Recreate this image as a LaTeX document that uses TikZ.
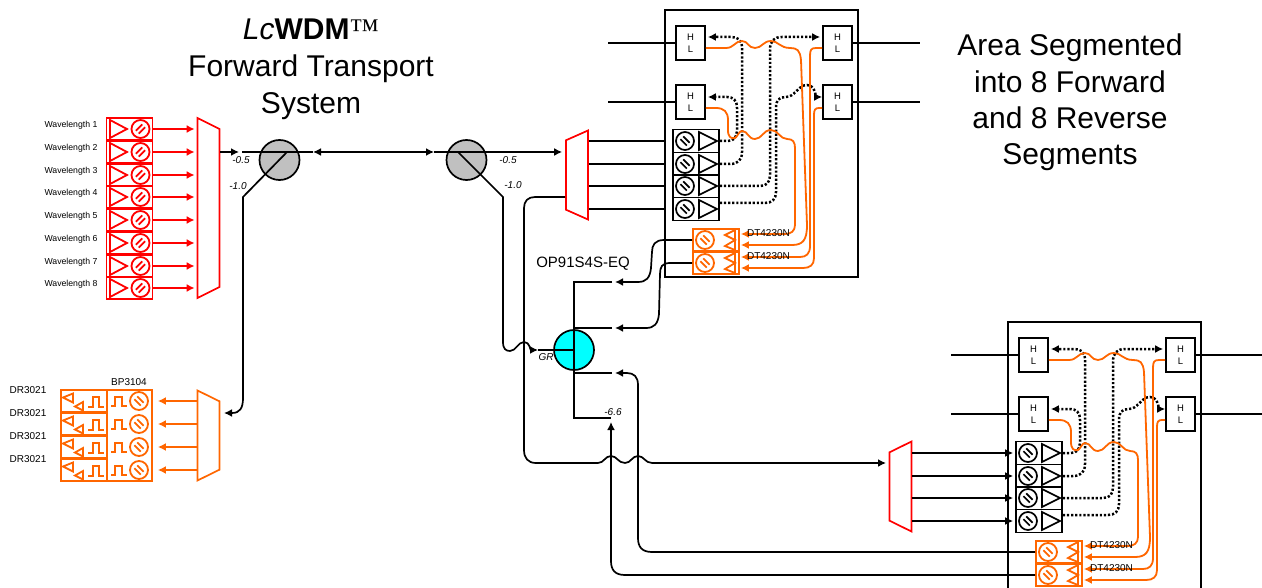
\documentclass[tikz,border=0pt]{standalone}
\usepackage{fontspec}
\setmainfont{Liberation Sans}
\newfontfamily\tmfont{Liberation Serif}
\usetikzlibrary{arrows.meta}
\usetikzlibrary{shapes.geometric}
\definecolor{orange1}{HTML}{FF6600}
\definecolor{gray1}{HTML}{C0C0C0}
\definecolor{cyan1}{HTML}{00FFFF}

\begin{document}
\begin{tikzpicture}[x = 1pt, y = -1pt, line width = 1.7pt,
        font = \fontsize{10}{12}\selectfont,
        arr/.style = {-{Latex[length=8pt,width=8pt]}},
        dots/.style = {line width = 2.5pt, dash pattern = on 2.2pt off 1.9pt},
        wire/.style = {orange1, line width = 1.8pt},
        title/.style = {align = center, font = \fontsize{30}{37}\selectfont},
        lab/.style = {inner sep = 0pt, font = \itshape\fontsize{10}{12}\selectfont},
        tag/.style = {inner sep = 0pt},
        cell/.style = {draw, rectangle, minimum width = 46pt, minimum height = 22.75pt, inner sep = 0pt},
        hl/.style = {draw, fill = white, minimum width = 29pt, minimum height = 34pt, inner sep = 0pt, align = center, font = \fontsize{9.5}{12.5}\selectfont},
        frame/.style = {draw, fill = white, minimum width = 193pt, minimum height = 267pt, inner sep = 0pt},
        mux/.style = {draw, fill = white, trapezium, trapezium stretches, trapezium angle = 81, inner sep = 0pt, text width = 1pt, text height = 1pt, minimum height = 22pt},
        gauge/.style = {draw, circle, minimum size = 18pt, inner sep = 0pt, path picture = {
            \draw ([shift = {(-1.8pt,-4.6pt)}]path picture bounding box.center) -- ([shift = {(4.6pt,1.8pt)}]path picture bounding box.center);
            \draw ([shift = {(-4.6pt,-1.8pt)}]path picture bounding box.center) -- ([shift = {(1.8pt,4.6pt)}]path picture bounding box.center);}},
        gaugeb/.style = {gauge, rotate = 90},
        split/.style = {draw, circle, minimum size = 40pt, inner sep = 0pt},
        pics/txcell/.style = {code = {
            \node[cell] (-box) at (0,0) {};
            \node[gauge] (-att) at (11,0) {};
            \draw (-19.5,-9) -- (-2.5,0) -- (-19.5,9) -- cycle;
        }},
        pics/rxcell/.style = {code = {
            \node[cell] (-box) at (0,0) {};
            \node[gaugeb] (-att) at (-11,0) {};
            \draw (3,-9) -- (21,0) -- (3,9) -- cycle;
        }},
        pics/dtcell/.style = {code = {
            \node[cell] (-box) at (0,0) {};
            \node[gaugeb] (-att) at (-11,0) {};
            \draw (19,-11.4) -- (19,11.4);
            \draw (19,-10) -- (9,-5) -- (19,0) -- (9,6) -- (19,10);
        }},
        pics/drcell/.style = {code = {
            \node[cell] (-box) at (0,0) {};
            \draw (-21,-3.5) -- (-11,-7.5) -- (-11,1.5) -- cycle;
            \draw (-9,5.5) -- (-1,1) -- (-1,9.5) -- cycle;
            \draw (4,6) -- (9,6) -- (9,-4) -- (15,-4) -- (15,6) -- (20,6);
        }},
        pics/segbox/.style = {code = {
            \node[frame] (-frame) at (761.5,143.5) {};
            \node[hl] (-hla) at (690.5,43) {H\\L};
            \node[hl] (-hlb) at (690.5,102) {H\\L};
            \node[hl] (-hlc) at (837.5,43) {H\\L};
            \node[hl] (-hld) at (837.5,102) {H\\L};
            \coordinate (-ina) at (608,43);
            \coordinate (-inb) at (608,102);
            \coordinate (-outa) at (920,43);
            \coordinate (-outb) at (920,102);
            \path (-ina) edge (-hla) (-inb) edge (-hlb) (-hlc) edge (-outa) (-hld) edge (-outb);
            \foreach \r/\y in {a/141,b/164,c/186,d/209}
                \pic (-rx\r) at (696,\y) {rxcell};
            \pic[orange1, line width = 1.8pt] (-dta) at (716,240) {dtcell};
            \pic[orange1, line width = 1.8pt] (-dtb) at (716,263) {dtcell};
            \draw[dots, arr] (-rxa-box.east) -- (728,141) .. controls (734,141) and (737,137) .. (737,130) -- (737,108) .. controls (737,100) and (733,97) .. (727,97) -- ([xshift = 2pt, yshift = 5pt]-hlb.east);
            \draw[dots, arr] (-rxb-box.east) -- (730,164) .. controls (738,164) and (742,160) .. (742,152) -- (742,48) .. controls (742,40) and (738,37) .. (731,37) -- ([xshift = 2pt, yshift = 6pt]-hla.east);
            \draw[dots, arr] (-rxc-box.east) -- (760,186) .. controls (767,186) and (770,182) .. (770,175) -- (770,50) .. controls (770,41) and (774,37) .. (782,37) -- ([xshift = -2pt, yshift = 6pt]-hlc.west);
            \draw[dots, arr] ([yshift = 6pt]-rxd-box.east) -- (765,203) .. controls (772,203) and (776,199) .. (776,192) -- (776,108) .. controls (776,100) and (779,97) .. (786,97) .. controls (795,97) and (798,85) .. (807,85) .. controls (813,85) and (815,90) .. (816,97) -- ([yshift = 5pt]-hld.west);
            \draw[wire, arr] ([yshift = -5pt]-hla.east) -- (726,48) .. controls (734,48) and (735,41) .. (742,41) .. controls (748,41) and (748,48) .. (755,48) .. controls (762,48) and (763,41) .. (771,41) .. controls (778,41) and (780,48) .. (790,48) .. controls (797,48) and (800,50) .. (801,60) -- (807,225) .. controls (807,240) and (803,245) .. (792,245) -- ([yshift = -5pt, xshift = 1pt]-dta-box.east);
            \draw[wire, arr] ([yshift = -6pt]-hlb.east) -- (716,108) .. controls (724,108) and (728,112) .. (728,120) -- (728,130) .. controls (728,137) and (731,139) .. (735,138) .. controls (738,136) and (739,131) .. (742,131) .. controls (748,131) and (748,139) .. (755,139) .. controls (762,139) and (763,130) .. (771,130) .. controls (778,130) and (780,139) .. (787,139) .. controls (793,139) and (795,142) .. (795,148) -- (795,225) .. controls (795,231) and (791,234) .. (785,234) -- ([yshift = 6pt, xshift = 1pt]-dta-box.east);
            \draw[wire, arr] ([yshift = -5pt]-hlc.west) -- (816,48) .. controls (811,48) and (810,50) .. (810,56) -- (810,246) .. controls (810,254) and (806,257) .. (800,257) -- ([yshift = 6pt, xshift = 1pt]-dtb-box.east);
            \draw[wire, arr] ([yshift = -6pt]-hld.west) -- (819,108) .. controls (815,108) and (814,110) .. (814,115) -- (814,258) .. controls (814,265) and (810,268) .. (803,268) -- ([yshift = -5pt, xshift = 1pt]-dtb-box.east);
            \node[tag] (-dtla) at (768.5,233) {DT4230N};
            \node[tag] (-dtlb) at (768.5,256) {DT4230N};
        }}]
    \useasboundingbox (0,0) rectangle (1262,588);

    \node[title] (ttl) at (311,69.5) {{\itshape Lc}{\bfseries WDM}{\tmfont ™}\\Forward Transport\\System};
    \node[title, font = \fontsize{30}{36.4}\selectfont] (area) at (1070,102.5) {Area Segmented\\into 8 Forward\\and 8 Reverse\\Segments};

    \node[mux, draw = red, rotate = -90, trapezium angle = 86, minimum width = 180pt] (mxa) at (208.5,208) {};
    \foreach \i/\y in {1/129,2/152,3/175,4/197,5/220,6/243,7/266,8/288} {
        \pic[red, line width = 1.8pt] (tx\i) at (129.5,\y) {txcell};
        \node[tag, font = \fontsize{8.7}{10}\selectfont] (wl\i) at (71,\y-3.5) {Wavelength \i};
        \path[red, line width = 1.8pt, arr, shorten >= 2pt] (tx\i-box.east) edge (tx\i-box.east -| mxa.south);
    }

    \node[mux, draw = orange1, rotate = -90, minimum width = 90pt] (mxd) at (208.5,435.5) {};
    \node[cell, orange1, line width = 1.8pt, minimum width = 45pt, minimum height = 91pt] (bp) at (129.5,435.5) {};
    \node[tag] (bpl) at (129,382) {BP3104};
    \foreach \i/\y in {1/401,2/424,3/447,4/470} {
        \pic[orange1, line width = 1.8pt] (dr\i) at (84,\y) {drcell};
        \node[tag] (drl\i) at (28,\y-11) {DR3021};
        \node[gaugeb, orange1, line width = 1.8pt] (ph\i) at (139,\y) {};
        \draw[orange1, line width = 1.8pt] (111,\y+5) -- (115,\y+5) -- (115,\y-4) -- (122,\y-4) -- (122,\y+5) -- (127,\y+5);
        \path[orange1, line width = 1.8pt, arr, shorten >= 5pt] (mxd.south |- ph\i) edge (bp.east |- ph\i);
    }

    \node[split, fill = gray1] (spa) at (279.5,160) {};
    \node[split, fill = gray1] (spb) at (466.5,160) {};
    \coordinate (spah) at (287,152);
    \coordinate (spbh) at (458,152);
    \coordinate (spak) at (243,197);
    \coordinate (spbk) at (503,197);
    \coordinate (mxain) at (239,152);
    \coordinate (mxaon) at (242,152);
    \coordinate (mxdin) at (224,413);
    \coordinate (trl) at (313,152);
    \coordinate (trr) at (434,152);
    \path[arr] (mxa.north |- spah) edge (mxain);
    \draw (mxaon) -- (spah) -- (trl);
    \draw[{Latex[length=8pt,width=8pt]}-{Latex[length=8pt,width=8pt]}] (trl) -- (trr);
    \draw (trr) -- (spbh);
    \draw[arr] (spah) -- (spak) -- (243,398) .. controls (243,408) and (240,413) .. (232,413) -- (mxdin);

    \node[mux, draw = red, rotate = 90, trapezium angle = 82, minimum width = 89pt] (mxb) at (577,175) {};
    \path[arr, shorten >= 3pt] (spbh) edge (mxb.north |- spbh);
    \pic (sega) at (0,0) {segbox};
    \foreach \r in {a,b,c,d}
        \draw (mxb.south |- sega-rx\r-box.west) -- (sega-frame.west |- sega-rx\r-box.west);

    \node[split, fill = cyan1] (gr) at (574,350) {};
    \coordinate (busa) at (574,282);
    \coordinate (busb) at (574,418);
    \coordinate (grin) at (538,350);
    \coordinate (tapa) at (612,282);
    \coordinate (tapb) at (612,328);
    \coordinate (tapc) at (612,373);
    \coordinate (tapd) at (611,418);
    \draw (tapa) -- (busa) -- (busb) -- (tapd);
    \draw (gr.center |- tapb) -- (tapb);
    \draw (gr.center |- tapc) -- (tapc);
    \draw (grin) -- (gr.center);
    \node[lab] (grl) at (546,357) {GR};
    \node[lab] (la) at (241,160.5) {-0.5};
    \node[lab] (lb) at (238,186) {-1.0};
    \node[lab] (lc) at (508,160.5) {-0.5};
    \node[lab] (ld) at (513,185.5) {-1.0};
    \node[lab] (le) at (613,412) {-6.6};
    \node[tag, font = \fontsize{15}{18}\selectfont] (opl) at (583,264) {OP91S4S-EQ};

    \draw[arr] (spbh) -- (spbk) -- (503,342) .. controls (503,349) and (506,351) .. (510,351) .. controls (516,351) and (518,342) .. (524,342) .. controls (530,342) and (530,350) .. (538,350);
    \draw[arr] (sega-dta-box.west) -- (664,240) .. controls (655,240) and (652,245) .. (652,252) -- (651,268) .. controls (650,278) and (646,282) .. (638,282) -- ([xshift = 3pt]tapa);
    \draw[arr] (sega-dtb-box.west) -- (670,263) .. controls (662,263) and (660,267) .. (660,274) -- (659,314) .. controls (658,324) and (654,328) .. (646,328) -- ([xshift = 3pt]tapb);

    \node[mux, draw = red, rotate = 90, minimum width = 90pt] (mxc) at (900.5,486.5) {};
    \coordinate (mxcin) at (886,463);
    \pic (segb) at (343,312) {segbox};

    \draw[arr] (mxb.north |- spbk) -- (535,197) .. controls (528,197) and (524,201) .. (524,208) -- (524,450) .. controls (524,458) and (528,463) .. (536,463) -- (598,463) .. controls (604,463) and (605,456) .. (611,456) .. controls (617,456) and (618,463) .. (625,463) .. controls (631,463) and (632,456) .. (638,456) .. controls (644,456) and (645,463) .. (652,463) -- (mxcin);
    \draw[arr] (segb-dta-box.west) -- (652,552) .. controls (642,552) and (638,547) .. (638,538) -- (638,385) .. controls (638,377) and (634,373) .. (627,373) -- ([xshift = 3pt]tapc);
    \draw[arr] (segb-dtb-box.west) -- (625,575) .. controls (615,575) and (611,570) .. (611,561) -- ([yshift = -4pt]tapd);
    \foreach \r in {a,b,c,d}
        \path[arr, shorten >= 2pt] (mxc.south |- segb-rx\r-box.west) edge (segb-rx\r-box.west);
\end{tikzpicture}
\end{document}
